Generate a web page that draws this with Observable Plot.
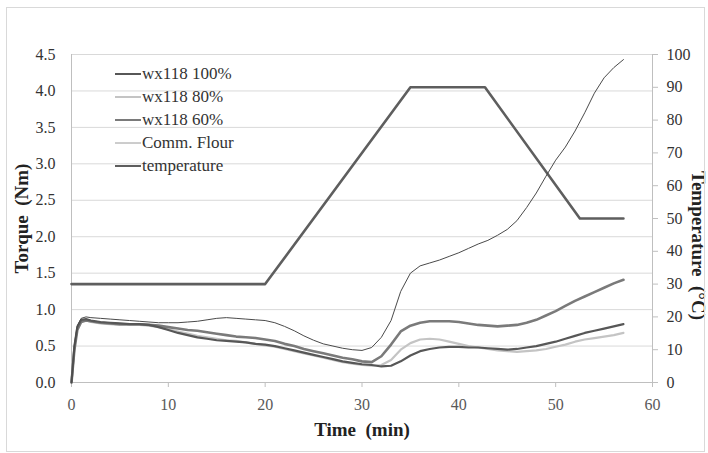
<!DOCTYPE html>
<html><head><meta charset="utf-8">
<script src="https://cdn.jsdelivr.net/npm/d3@7"></script>
<script src="https://cdn.jsdelivr.net/npm/@observablehq/plot@0.6"></script>
<style>
body{margin:0;background:#fff;}
#wrap{position:relative;width:708px;height:453px;font-family:"Liberation Serif","Times New Roman",serif;}
#frame{position:absolute;left:6px;top:7px;width:697px;height:443px;border:1px solid #d9d9d9;pointer-events:none;}
#legend{position:absolute;left:115px;top:62px;font-size:17px;color:#333;}
.row{display:flex;align-items:center;height:23px;white-space:nowrap;}
.row svg{margin-right:1px;display:block;}
</style></head>
<body><div id="wrap"><div id="chart"></div><div id="frame"></div><div id="legend"></div></div>
<script>
// time grid (min)
const times = [0,0.3,0.6,1,1.5,2,3,4,5,6,7,8,9,10,11,12,13,14,15,16,17,18,19,20,21,22,23,24,25,26,27,28,29,30,31,32,33,34,35,36,37,38,39,40,41,42,43,44,45,46,47,48,49,50,51,52,53,54,55,56,57];
// torque (Nm)
const wx100 = [0,0.5,0.76,0.86,0.87,0.85,0.83,0.82,0.81,0.8,0.8,0.79,0.76,0.72,0.68,0.65,0.62,0.6,0.58,0.57,0.56,0.55,0.53,0.52,0.5,0.47,0.44,0.41,0.38,0.35,0.32,0.29,0.27,0.25,0.24,0.22,0.23,0.29,0.37,0.43,0.46,0.48,0.49,0.49,0.48,0.48,0.47,0.46,0.45,0.46,0.48,0.5,0.53,0.56,0.6,0.64,0.68,0.71,0.74,0.77,0.8];
const wx80 = [0,0.48,0.74,0.84,0.85,0.83,0.81,0.8,0.79,0.79,0.79,0.78,0.76,0.73,0.7,0.67,0.64,0.62,0.6,0.58,0.57,0.55,0.53,0.51,0.49,0.46,0.43,0.4,0.37,0.34,0.31,0.28,0.26,0.24,0.23,0.24,0.31,0.45,0.54,0.59,0.6,0.59,0.56,0.53,0.5,0.48,0.46,0.44,0.43,0.42,0.43,0.44,0.46,0.49,0.52,0.56,0.59,0.61,0.63,0.65,0.68];
const wx60 = [0,0.45,0.72,0.83,0.85,0.84,0.82,0.81,0.8,0.8,0.8,0.79,0.78,0.76,0.74,0.72,0.71,0.69,0.67,0.65,0.63,0.62,0.61,0.59,0.57,0.53,0.5,0.46,0.43,0.4,0.37,0.34,0.32,0.29,0.28,0.36,0.52,0.7,0.78,0.82,0.84,0.84,0.84,0.83,0.81,0.79,0.78,0.77,0.78,0.79,0.82,0.86,0.92,0.98,1.05,1.12,1.18,1.24,1.3,1.36,1.41];
const commFlour = [0,0.5,0.78,0.88,0.9,0.89,0.88,0.87,0.86,0.85,0.84,0.83,0.82,0.82,0.82,0.83,0.84,0.86,0.88,0.89,0.88,0.87,0.86,0.85,0.82,0.77,0.71,0.64,0.58,0.53,0.5,0.47,0.45,0.44,0.48,0.62,0.85,1.25,1.5,1.6,1.64,1.68,1.73,1.78,1.84,1.9,1.95,2.02,2.1,2.22,2.4,2.6,2.83,3.05,3.23,3.45,3.7,3.97,4.18,4.32,4.43];
// temperature profile (°C)
const tempTime = [0,20,35,42.7,52.5,57];
const tempVal = [30,30,90,90,50,50];
// ticks
const xTicks = [0,10,20,30,40,50,60];
const torqueTicks = [0,0.5,1,1.5,2,2.5,3,3.5,4,4.5];
const tempTicks = [0,10,20,30,40,50,60,70,80,90,100];
const seriesNames = ["wx118 100%","wx118 80%","wx118 60%","Comm. Flour","temperature"];

const TMAX = 100, YMAX = 4.5;
const toY = c => c * YMAX / TMAX;
const mk = vals => times.map((t,i)=>({t, v: vals[i]}));
const tempData = tempTime.map((t,i)=>({t, v: toY(tempVal[i])}));

const styles = [
  {stroke:"#575757", strokeWidth:2.2},
  {stroke:"#c4c4c4", strokeWidth:2.2},
  {stroke:"#7a7a7a", strokeWidth:2.6},
  {stroke:"#4a4a4a", strokeWidth:1},
  {stroke:"#5e5e5e", strokeWidth:2.6}
];

const chart = Plot.plot({
  width:708, height:453,
  marginLeft:71, marginRight:56, marginTop:54, marginBottom:71,
  style:{fontFamily:'"Liberation Serif","Times New Roman",serif', fontSize:"16px", background:"transparent"},
  x:{domain:[0,60], label:null},
  y:{domain:[0,YMAX], label:null},
  marks:[
    Plot.gridY(torqueTicks, {stroke:"#d9d9d9", strokeOpacity:1}),
    Plot.ruleX([0,60], {stroke:"#bfbfbf"}),
    Plot.ruleY([0], {stroke:"#bfbfbf"}),
    Plot.axisY(torqueTicks, {anchor:"left", tickSize:0, tickPadding:16, tickFormat:d3.format(".1f"), fill:"#333", label:null}),
    Plot.axisY(tempTicks.map(toY), {anchor:"right", tickSize:5, tickPadding:9, stroke:"#bfbfbf", fill:"#333", tickFormat:d=>Math.round(d*TMAX/YMAX), label:null}),
    Plot.axisX(xTicks, {anchor:"bottom", tickSize:5, tickPadding:11, stroke:"#bfbfbf", fill:"#595959", label:null}),
    Plot.line(tempData, {x:"t", y:"v", ...styles[4]}),
    Plot.line(mk(wx80), {x:"t", y:"v", ...styles[1]}),
    Plot.line(mk(wx60), {x:"t", y:"v", ...styles[2]}),
    Plot.line(mk(wx100), {x:"t", y:"v", ...styles[0]}),
    Plot.line(mk(commFlour), {x:"t", y:"v", ...styles[3]}),
    Plot.text(["Torque  (Nm)"], {frameAnchor:"left", textAnchor:"middle", rotate:-90, dx:-50, fontWeight:"bold", fontSize:19, fill:"#222"}),
    Plot.text(["Temperature  (°C)"], {frameAnchor:"right", textAnchor:"middle", rotate:90, dx:46, dy:27, fontWeight:"bold", fontSize:19, fill:"#222"}),
    Plot.text(["Time  (min)"], {frameAnchor:"bottom", textAnchor:"middle", dy:53, fontWeight:"bold", fontSize:19, fill:"#222"})
  ]
});
document.getElementById("chart").appendChild(chart);

const legend = document.getElementById("legend");
seriesNames.forEach((name,i)=>{
  const row = document.createElement("div");
  row.className = "row";
  const s = styles[i];
  const sw = i===3 ? 1 : 2;
  const col = i===3 ? "#9a9a9a" : s.stroke;
  row.innerHTML = `<svg width="26" height="6"><line x1="0" y1="3" x2="26" y2="3" stroke="${col}" stroke-width="${sw}"/></svg><span>${name}</span>`;
  legend.appendChild(row);
});
</script>
</body></html>
